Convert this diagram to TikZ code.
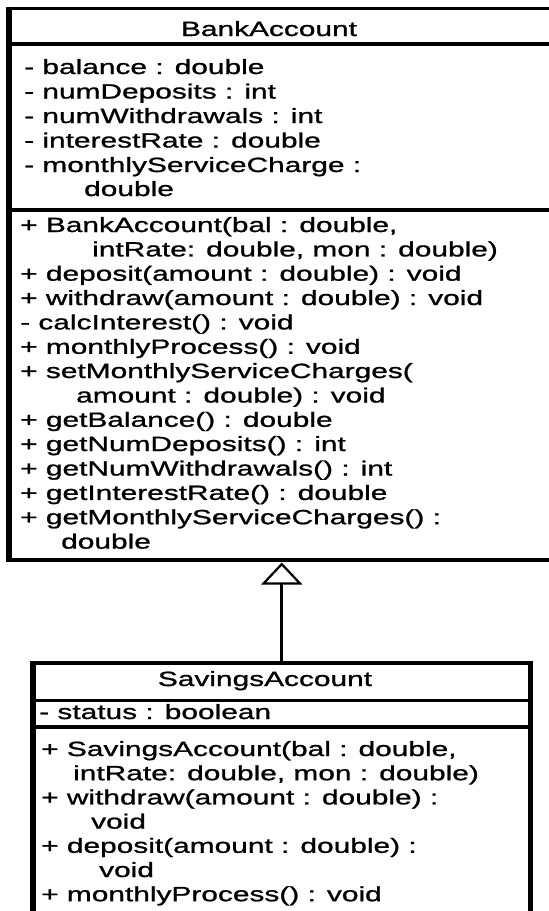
\documentclass[tikz,border=0pt]{standalone}
\usepackage{fontspec}
\setmainfont{Liberation Sans}[FakeStretch=1.45, FakeBold=1.1]
\usetikzlibrary{arrows.meta}
\newcommand{\umlfont}{\fontsize{20.6}{24}\selectfont}
\begin{document}
\begin{tikzpicture}[x=1pt, y=-1pt,
  hline/.style={line width=3.2pt},
  vline/.style={line width=5.5pt},
  boxarea/.style={draw=none, inner sep=0pt, outer sep=0pt, anchor=north west},
  umlline/.style={anchor=base west, inner sep=0pt, font=\umlfont},
  umltitle/.style={anchor=base, inner sep=0pt, font=\umlfont},
  inherit/.style={line width=2.6pt, shorten >=2.5pt,
    -{Triangle[open, length=22pt, width=41pt, line width=2.2pt]}}]

\path[use as bounding box] (0,0) rectangle (549,911);
\clip (0,0) rectangle (549,911);

% ---------- BankAccount ----------
\node[boxarea, minimum width=561pt, minimum height=551.5pt] (bank) at (9,8.5) {};
\draw[hline] ([xshift=-2.75pt]bank.north west) -- ([xshift=2.75pt]bank.north east);
\draw[hline] ([xshift=-2.75pt]bank.south west) -- ([xshift=2.75pt]bank.south east);
\draw[vline] ([yshift=1.6pt]bank.north west) -- ([yshift=-1.6pt]bank.south west);
\draw[vline] ([yshift=1.6pt]bank.north east) -- ([yshift=-1.6pt]bank.south east);
\draw[hline] (bank.west |- 0,44) -- (bank.east |- 0,44);
\draw[hline] (bank.west |- 0,210) -- (bank.east |- 0,210);

\node[umltitle] (bt) at (269,36) {BankAccount};

\node[umlline] (ba1) at (24,74) {- balance : double};
\node[umlline] (ba2) at (24,98.5) {- numDeposits : int};
\node[umlline] (ba3) at (24,123) {- numWithdrawals : int};
\node[umlline] (ba4) at (24,147.5) {- interestRate : double};
\node[umlline] (ba5) at (24,172) {- monthlyServiceCharge :};
\node[umlline] (ba6) at (84,196) {double};

\node[umlline] (bm1) at (20,232) {+ BankAccount(bal : double,};
\node[umlline] (bm2) at (92,256.4) {intRate: double, mon : double)};
\node[umlline] (bm3) at (20,280.7) {+ deposit(amount : double) : void};
\node[umlline] (bm4) at (20,305) {+ withdraw(amount : double) : void};
\node[umlline] (bm5) at (20,329.4) {- calcInterest() : void};
\node[umlline] (bm6) at (20,353.8) {+ monthlyProcess() : void};
\node[umlline] (bm7) at (20,378) {+ setMonthlyServiceCharges(};
\node[umlline] (bm8) at (76,402.5) {amount : double) : void};
\node[umlline] (bm9) at (20,426.8) {+ getBalance() : double};
\node[umlline] (bm10) at (20,451) {+ getNumDeposits() : int};
\node[umlline] (bm11) at (20,475.5) {+ getNumWithdrawals() : int};
\node[umlline] (bm12) at (20,499.9) {+ getInterestRate() : double};
\node[umlline] (bm13) at (20,524.2) {+ getMonthlyServiceCharges() :};
\node[umlline] (bm14) at (61,548.6) {double};

% ---------- SavingsAccount ----------
\node[boxarea, minimum width=497.5pt, minimum height=270pt] (sav) at (33,663) {};
\draw[hline] ([xshift=-2.75pt]sav.north west) -- ([xshift=2.75pt]sav.north east);
\draw[vline] ([yshift=1.6pt]sav.north west) -- (sav.south west);
\draw[vline] ([yshift=1.6pt]sav.north east) -- (sav.south east);
\draw[hline] (sav.west |- 0,700.5) -- (sav.east |- 0,700.5);
\draw[hline] (sav.west |- 0,727) -- (sav.east |- 0,727);

\node[umltitle] (st) at (265,686) {SavingsAccount};
\node[umlline] (sa1) at (39,719) {- status : boolean};

\node[umlline] (sm1) at (41,756) {+ SavingsAccount(bal : double,};
\node[umlline] (sm2) at (73,780.2) {intRate: double, mon : double)};
\node[umlline] (sm3) at (41,804.4) {+ withdraw(amount : double) :};
\node[umlline] (sm4) at (91,828.6) {void};
\node[umlline] (sm5) at (41,852.8) {+ deposit(amount : double) :};
\node[umlline] (sm6) at (99,877) {void};
\node[umlline] (sm7) at (41,901.2) {+ monthlyProcess() : void};

% ---------- inheritance ----------
\draw[inherit] (sav.north) -- (sav.north |- bank.south);
\end{tikzpicture}
\end{document}
